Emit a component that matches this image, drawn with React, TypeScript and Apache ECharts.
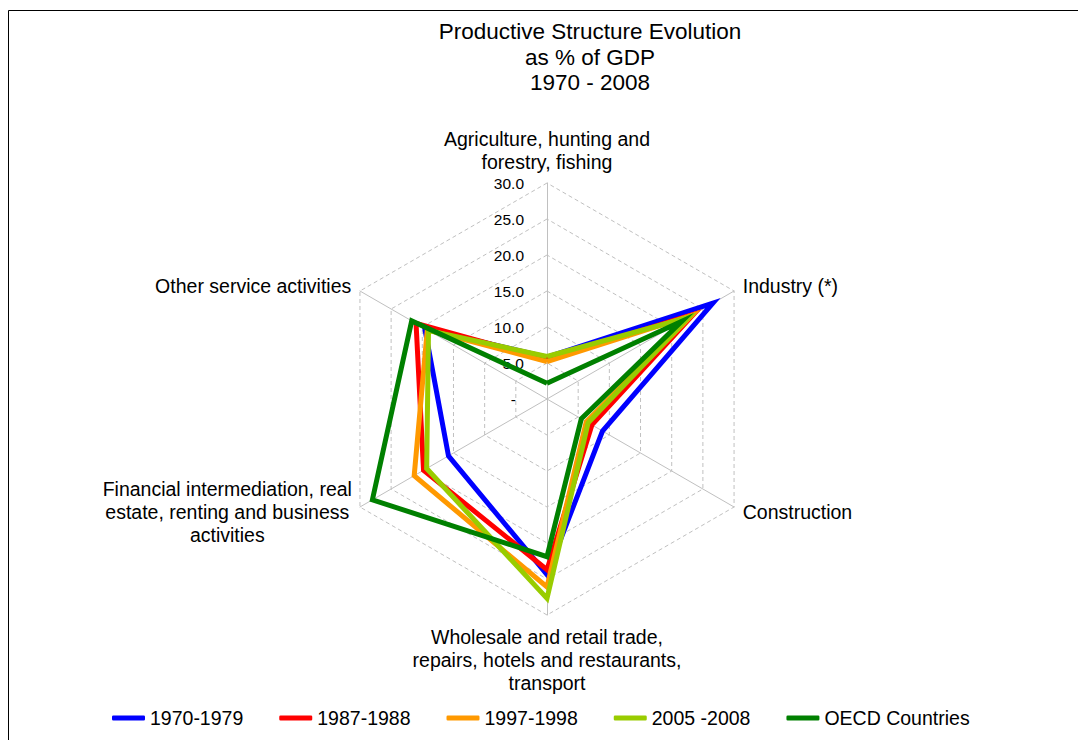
import React, { useEffect, useRef } from "react";
import * as echarts from "echarts";

// Indicators in counter-clockwise order starting at the top (ECharts radar direction)
const indicatorNames = [
  "Agriculture, hunting and\nforestry, fishing",
  "Other service activities",
  "Financial intermediation, real\nestate, renting and business\nactivities",
  "Wholesale and retail trade,\nrepairs, hotels and restaurants,\ntransport",
  "Construction",
  "Industry (*)",
];
const indicatorMax = 30;

const seriesNames = ["1970-1979", "1987-1988", "1997-1998", "2005 -2008", "OECD Countries"];
const seriesColors = ["#0000FF", "#FF0000", "#FF9900", "#99CC00", "#008000"];

const values1970_1979 = [5.8, 19.6, 15.8, 24.4, 8.9, 26.6];
const values1987_1988 = [5.5, 21.0, 19.8, 23.7, 7.2, 23.5];
const values1997_1998 = [5.2, 19.2, 21.3, 26.1, 6.3, 23.2];
const values2005_2008 = [5.9, 19.0, 19.3, 27.7, 6.6, 22.7];
const valuesOECD = [2.2, 21.7, 28.0, 21.9, 5.5, 21.6];

const seriesValues = [values1970_1979, values1987_1988, values1997_1998, values2005_2008, valuesOECD];

const tickStep = 5;

const FONT = 'Arial, "Liberation Sans", sans-serif';

export default function App() {
  const ref = useRef<HTMLDivElement>(null);

  useEffect(() => {
    if (!ref.current) return;
    const chart = echarts.init(ref.current, undefined, { renderer: "svg" });

    const option: any = {
      animation: false,
      backgroundColor: "#ffffff",
      textStyle: { fontFamily: FONT, color: "#000" },
      title: {
        text: "Productive Structure Evolution\nas % of GDP\n1970 - 2008",
        left: 590,
        top: 19,
        textAlign: "center",
        padding: 0,
        textStyle: {
          fontFamily: FONT,
          fontSize: 22.5,
          fontWeight: "normal",
          lineHeight: 25.5,
          color: "#000",
        },
      },
      graphic: [
        {
          type: "rect",
          silent: true,
          z: -10,
          shape: { x: 8.5, y: 10.5, width: 1200, height: 1000 },
          style: { fill: "none", stroke: "#000", lineWidth: 1 },
        },
      ],
      legend: {
        data: seriesNames,
        left: 112,
        top: 707,
        padding: 0,
        itemGap: 36,
        itemWidth: 33,
        itemHeight: 5,
        icon: "roundRect",
        textStyle: { fontFamily: FONT, fontSize: 19.5, color: "#000", lineHeight: 22 },
      },
      grid: { left: 547, top: 183, width: 100, height: 216, show: false },
      xAxis: { type: "value", show: false, min: 0, max: 1 },
      yAxis: {
        type: "value",
        min: 0,
        max: indicatorMax,
        interval: tickStep,
        axisLine: { show: false },
        axisTick: { show: false },
        splitLine: { show: false },
        axisLabel: {
          margin: 23,
          fontSize: 15.5,
          fontFamily: FONT,
          color: "#000",
          formatter: (v: number) => (v === 0 ? "{z|-}" : v.toFixed(1)),
          rich: { z: { padding: [0, 8, 0, 0], fontSize: 15.5, fontFamily: FONT, color: "#000" } },
        },
      },
      radar: {
        center: [547, 399],
        radius: 216,
        startAngle: 90,
        splitNumber: 6,
        shape: "polygon",
        indicator: indicatorNames.map((n) => ({ name: n, max: indicatorMax, min: 0 })),
        nameGap: 10,
        axisName: {
          color: "#000",
          fontFamily: FONT,
          fontSize: 19.5,
          lineHeight: 23,
          formatter: (name: string) =>
            name.startsWith("Financial")
              ? name.split("\n").map((l) => `{c|${l}}`).join("\n")
              : name,
          rich: {
            c: { width: 248, align: "center", fontSize: 19.5, lineHeight: 23, fontFamily: FONT, color: "#000" },
          },
        },
        axisLine: { lineStyle: { color: "#c0c0c0", width: 1 } },
        axisTick: { show: false },
        axisLabel: { show: false },
        splitLine: { lineStyle: { color: "#c0c0c0", width: 1, type: [4, 3] } },
        splitArea: { show: false },
      },
      series: [
        {
          type: "radar",
          symbol: "none",
          z: 3,
          data: seriesNames.map((name, i) => ({
            name,
            value: seriesValues[i],
            lineStyle: { color: seriesColors[i], width: 5, join: "miter", miterLimit: 6 },
            itemStyle: { color: seriesColors[i] },
          })),
        },
      ],
    };

    chart.setOption(option);
    return () => chart.dispose();
  }, []);

  return (
    <div
      ref={ref}
      style={{ position: "absolute", left: 0, top: 0, width: 1078, height: 740 }}
    />
  );
}
